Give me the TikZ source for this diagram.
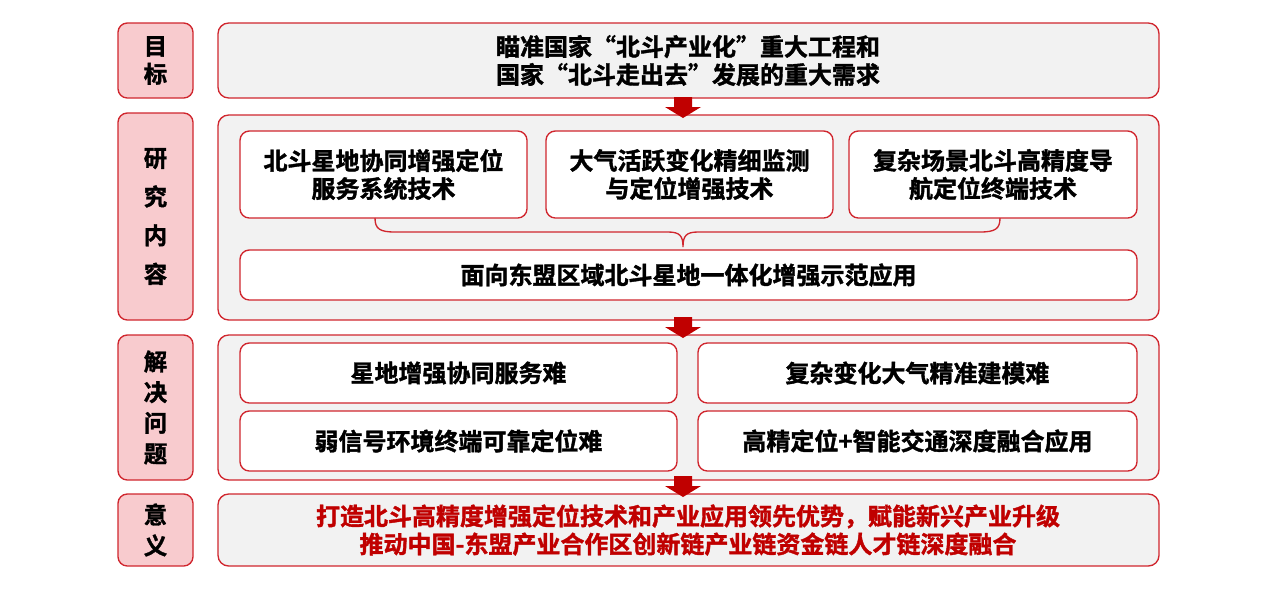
\documentclass[tikz,border=0pt]{standalone}
\usepackage{fontspec}
\newfontfamily\cjk[FakeBold=1.5]{Noto Sans CJK SC Bold}
\definecolor{redb}{HTML}{D0262E}
\definecolor{pinkf}{HTML}{F8CBCE}
\definecolor{grayf}{HTML}{F2F2F2}
\definecolor{darkred}{HTML}{C00000}
\begin{document}
\begin{tikzpicture}[x=0.75pt,y=-0.75pt,
  lab/.style={draw=redb,line width=1pt,fill=pinkf,rounded corners=7pt},
  mainb/.style={draw=redb,line width=1pt,fill=grayf,rounded corners=8pt},
  inb/.style={draw=redb,line width=1pt,fill=white,rounded corners=7pt},
  txt/.style={font=\cjk\fontsize{18}{21}\selectfont,align=center,text=black},
  ltxt/.style={font=\cjk\fontsize{17.5}{21}\selectfont,align=center,text=black},
  bigarrow/.style={fill=darkred}]
\useasboundingbox (0,0) rectangle (1278,615);
% labels
\draw[lab] (118,23) rectangle (193,98); \node[ltxt] (l1) at (155.5,60.5) {目\\标};
\draw[lab] (118,113) rectangle (193,320); \node[ltxt,font=\cjk\fontsize{17.5}{29}\selectfont] (l2) at (155.5,216.5) {研\\究\\内\\容};
\draw[lab] (118,335) rectangle (193,480); \node[ltxt,font=\cjk\fontsize{17.5}{23}\selectfont] (l3) at (155.5,407.5) {解\\决\\问\\题};
\draw[lab] (118,494) rectangle (193,566); \node[ltxt,font=\cjk\fontsize{17.5}{23}\selectfont] (l4) at (155.5,530) {意\\义};
% main boxes
\draw[mainb] (218,23) rectangle (1159,98);
\node[txt] (m1) at (688,60.5) {瞄准国家“北斗产业化”重大工程和\\国家“北斗走出去”发展的重大需求};
\draw[mainb] (218,115) rectangle (1159,320);
\draw[mainb] (218,335) rectangle (1159,480);
\draw[mainb] (218,494) rectangle (1159,566);
\node[txt,text=darkred] (m4) at (688,530) {打造北斗高精度增强定位技术和产业应用领先优势，赋能新兴产业升级\\推动中国-东盟产业合作区创新链产业链资金链人才链深度融合};
% research inner
\draw[inb] (240,131) rectangle (527,218); \node[txt] (r1) at (383.5,174.5) {北斗星地协同增强定位\\服务系统技术};
\draw[inb] (546,131) rectangle (833,218); \node[txt] (r2) at (689.5,174.5) {大气活跃变化精细监测\\与定位增强技术};
\draw[inb] (849,131) rectangle (1137,218); \node[txt] (r3) at (993,174.5) {复杂场景北斗高精度导\\航定位终端技术};
\draw[inb] (240,250) rectangle (1137,300); \node[txt] (r4) at (688.5,275) {面向东盟区域北斗星地一体化增强示范应用};
% brace
\draw[redb,line width=1pt] (375,218) .. controls (375,229) and (380,232) .. (395,232) -- (668,232) .. controls (680,232) and (683,236) .. (683,247) .. controls (683,236) and (686,232) .. (698,232) -- (980,232) .. controls (995,232) and (1000,229) .. (1000,218);
% problems
\draw[inb] (240,343) rectangle (677,403); \node[txt] (p1) at (458.5,373) {星地增强协同服务难};
\draw[inb] (698,343) rectangle (1137,403); \node[txt] (p2) at (917.5,373) {复杂变化大气精准建模难};
\draw[inb] (240,411) rectangle (677,471); \node[txt] (p3) at (458.5,441) {弱信号环境终端可靠定位难};
\draw[inb] (698,411) rectangle (1137,471); \node[txt] (p4) at (917.5,441) {高精定位+智能交通深度融合应用};
% arrows
\foreach \y in {97,317,476}{
  \fill[bigarrow] (674,\y) -- (692,\y) -- (692,\y+10) -- (701,\y+10) -- (683,\y+21) -- (665,\y+10) -- (674,\y+10) -- cycle;}
\end{tikzpicture}
\end{document}
